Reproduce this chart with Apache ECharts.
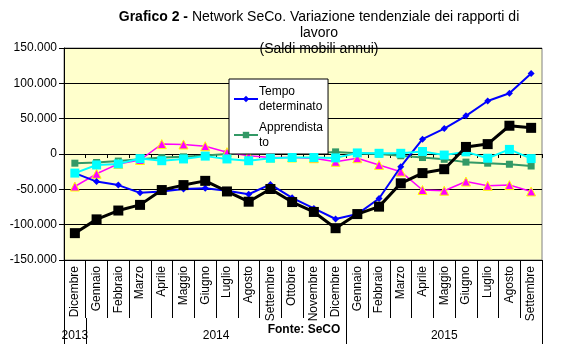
<!DOCTYPE html>
<html><head><meta charset="utf-8">
<script src="https://cdn.jsdelivr.net/npm/echarts@6/dist/echarts.min.js"></script>
<style>html,body{margin:0;padding:0;background:#fff}#c{width:565px;height:355px}</style>
</head><body><div id="c"></div>
<script>
var categories = ['Dicembre','Gennaio','Febbraio','Marzo','Aprile','Maggio','Giugno','Luglio','Agosto','Settembre','Ottobre','Novembre','Dicembre','Gennaio','Febbraio','Marzo','Aprile','Maggio','Giugno','Luglio','Agosto','Settembre'];
var tempoDeterminato = [-27000,-39000,-44000,-55000,-53000,-49500,-48500,-52000,-57000,-43000,-62000,-77000,-92000,-85000,-63000,-18000,21000,36000,54000,75000,86000,114000];
var apprendistato = [-13000,-12000,-10000,-7500,-5000,-4000,-2000,0,0,1500,1500,1000,3000,1000,0,-2500,-5000,-7500,-11500,-13000,-14500,-17000];
var serieNera = [-112000,-92500,-80000,-72000,-51000,-44000,-38000,-53000,-67500,-49500,-68000,-82000,-105000,-85000,-74500,-41500,-27000,-21500,10000,14000,40000,37000];
var serieCiano = [-27000,-15500,-14000,-6500,-9500,-7000,-3000,-7000,-9500,-6000,-5000,-5000,-5500,1500,1000,1000,3500,-1500,3000,-6000,6500,-6500];
var serieMagenta = [-46000,-28000,-14000,-8500,14000,13500,11000,2500,-2500,-5000,-5000,-6000,-11000,-6000,-15500,-25000,-51000,-52000,-39000,-45000,-44000,-53000];
var yearLabels = ['2013','2014','2015'];
var yearStart = [0,1,13];
var yearEnd = [1,13,22];
var yTicks = {min:-150000,max:150000,interval:50000};

var F = 'Liberation Sans, Arial, sans-serif';
function fmt(v){var s=String(Math.abs(v)).replace(/\B(?=(\d{3})+(?!\d))/g,'.');return (v<0?'-':'')+s;}
var legendNames = {'Tempo determinato':'Tempo\ndeterminato','Apprendistato':'Apprendista\nto'};

var chart = echarts.init(document.getElementById('c'), null, {renderer:'canvas'});
chart.setOption({
  animation:false,
  textStyle:{fontFamily:F},
  title:{
    text:'{b|Grafico 2 -} Network SeCo. Variazione tendenziale dei rapporti di\nlavoro\n(Saldi mobili annui)',
    left:314, top:4, textAlign:'center',
    textStyle:{fontFamily:F,fontSize:14,fontWeight:'normal',color:'#000',lineHeight:16,
      rich:{b:{fontFamily:F,fontSize:14,fontWeight:'bold',color:'#000',lineHeight:16}}}
  },
  legend:{
    data:['Tempo determinato','Apprendistato'],
    orient:'vertical', left:229, top:79, width:98,
    backgroundColor:'#fff', borderColor:'#000', borderWidth:1, borderRadius:0,
    padding:[5,5,4,4], itemGap:6, itemWidth:24, itemHeight:8,
    formatter:function(n){return legendNames[n]||n;},
    textStyle:{fontFamily:F,fontSize:12,color:'#000',lineHeight:15,padding:[0,0,0,-4]}
  },
  grid:{left:64,right:23,top:48,bottom:95,show:true,backgroundColor:'#FFFFCC',borderColor:'#808080',borderWidth:1},
  xAxis:[{
    type:'category', data:categories, boundaryGap:true,
    axisLine:{onZero:true,lineStyle:{color:'#000',width:1}},
    axisTick:{show:true,interval:0,length:4,lineStyle:{color:'#000'}},
    axisLabel:{show:false}
  },{
    type:'category', data:categories, boundaryGap:true, position:'bottom',
    axisLine:{onZero:false,lineStyle:{color:'#000',width:1}},
    axisTick:{show:true,interval:0,length:58,lineStyle:{color:'#000'}},
    axisLabel:{interval:0,rotate:90,margin:6,fontFamily:F,fontSize:12,color:'#000'}
  }],
  yAxis:{
    type:'value', min:yTicks.min, max:yTicks.max, interval:yTicks.interval,
    axisLine:{show:true,onZero:false,lineStyle:{color:'#000'}},
    axisTick:{show:true,length:5,lineStyle:{color:'#000'}},
    axisLabel:{formatter:fmt,fontFamily:F,fontSize:12,color:'#000',margin:7},
    splitLine:{lineStyle:{color:'#000',width:1}}
  },
  series:[
    {name:'Apprendistato',type:'line',data:apprendistato,z:2,color:'#339966',
     lineStyle:{width:2,color:'#339966'},symbol:'rect',symbolSize:7,itemStyle:{color:'#339966'}},
    {name:'Somministrazione',type:'line',data:serieMagenta,z:3,color:'#FF00FF',
     lineStyle:{width:1.5,color:'#FF00FF'},symbol:'triangle',symbolSize:9,itemStyle:{color:'#FF00FF',borderColor:'#FFFF00',borderWidth:1}},
    {name:'Tempo determinato',type:'line',data:tempoDeterminato,z:4,color:'#0000FF',
     lineStyle:{width:2,color:'#0000FF'},symbol:'diamond',symbolSize:7,itemStyle:{color:'#0000FF'}},
    {name:'Altro',type:'line',data:serieCiano,z:5,color:'#00FFFF',
     lineStyle:{width:2,color:'#00FFFF'},symbol:'rect',symbolSize:9,itemStyle:{color:'#00FFFF'}},
    {name:'Tempo indeterminato',type:'line',data:serieNera,z:6,color:'#000',
     lineStyle:{width:3,color:'#000'},symbol:'rect',symbolSize:10,itemStyle:{color:'#000'}}
  ]
});

var x0 = chart.convertToPixel({xAxisIndex:1}, 0);
var x1 = chart.convertToPixel({xAxisIndex:1}, 1);
var bw = x1 - x0;
var yAxisPix = chart.convertToPixel({yAxisIndex:0}, yTicks.min);
function edge(i){return x0 + (i - 0.5) * bw;}
var g = [];
var edges = [0,1,13,22];
edges.forEach(function(i){
  var x = Math.round(edge(i)) + 0.5;
  g.push({type:'line',shape:{x1:x,y1:yAxisPix+58,x2:x,y2:yAxisPix+84},style:{stroke:'#000',lineWidth:1},silent:true});
});
yearLabels.forEach(function(t,k){
  var cx = (edge(yearStart[k]) + edge(yearEnd[k])) / 2;
  g.push({type:'text',x:cx,y:yAxisPix+76,style:{text:t,font:'12px '+F,fill:'#000',align:'center',verticalAlign:'middle'},silent:true});
});
g.push({type:'text',x:304,y:yAxisPix+70,style:{text:'Fonte: SeCO',font:'bold 12px '+F,fill:'#000',align:'center',verticalAlign:'middle'},silent:true});
chart.setOption({graphic:g});
</script></body></html>
